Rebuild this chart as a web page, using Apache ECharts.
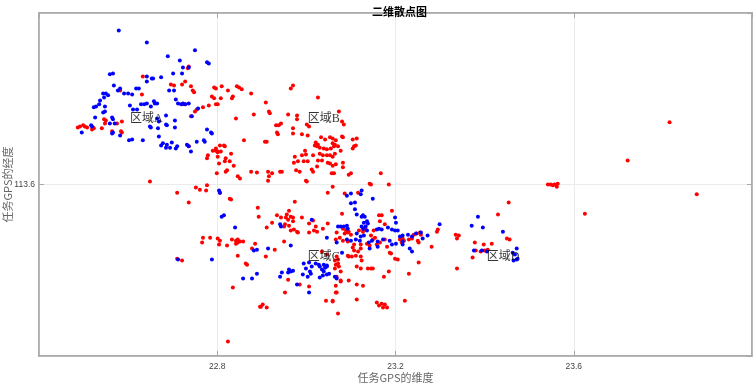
<!DOCTYPE html>
<html>
<head>
<meta charset="utf-8">
<script src="https://cdn.jsdelivr.net/npm/echarts@6/dist/echarts.min.js"></script>
<style>
  html, body { margin: 0; padding: 0; background: #fff; }
  #chart { width: 756px; height: 384px; }
</style>
</head>
<body>
<div id="chart"></div>
<script>
// 二维散点图：任务GPS的维度 / 经度
const xTicks = [22.4, 22.8, 23.2, 23.6, 24.0];
const yTicks = [113.2, 113.6, 114.0];

// 红色点（维度，经度）
const redLat = [
  22.633,22.736,22.734,22.728,22.721,22.696,22.703,22.741,22.745,22.748,22.793,22.797,22.631,22.582,22.788,22.793,
  22.728,22.723,22.797,22.801,22.781,22.768,22.754,22.750,22.741,22.546,22.550,22.575,22.586,22.548,22.492,22.499,
  22.503,22.508,22.521,22.523,22.519,22.541,22.564,22.584,22.586,22.736,22.797,22.801,22.487,22.810,22.824,22.844,
  22.849,22.855,22.876,22.835,22.833,22.808,22.970,22.965,23.026,22.909,22.916,22.918,22.882,22.842,22.959,22.979,
  22.979,23.073,23.080,23.084,23.001,23.006,22.943,22.938,22.932,22.970,22.934,22.936,22.970,22.990,23.003,23.033,
  23.042,23.053,23.059,23.066,23.080,23.082,23.104,23.113,22.860,22.907,22.911,22.806,22.815,22.817,22.797,22.801,
  22.808,22.790,23.021,23.026,23.024,23.030,23.019,23.039,23.046,23.055,23.062,23.059,23.064,23.071,23.077,23.111,
  23.107,23.104,22.997,22.990,22.999,22.974,23.015,23.030,23.037,23.046,23.053,23.059,23.064,23.026,23.035,22.972,
  22.981,22.994,23.003,23.048,23.053,23.059,23.066,23.082,23.082,22.779,22.777,22.801,22.804,22.819,22.817,22.828,
  22.837,22.831,22.822,22.819,22.799,22.846,22.851,22.876,22.889,22.914,22.923,22.916,22.914,22.941,22.945,22.977,
  22.985,23.012,23.015,23.024,23.057,23.062,23.100,23.095,22.999,23.001,23.059,22.777,22.752,22.761,22.775,22.806,
  22.828,23.048,23.116,23.142,23.167,23.185,22.710,22.736,22.831,22.891,22.893,22.974,22.961,22.956,22.954,22.943,
  22.934,22.965,22.970,22.959,22.923,22.911,22.952,22.950,22.961,22.970,22.965,22.972,22.979,22.981,22.990,23.015,
  23.006,23.006,23.021,23.017,23.024,23.037,23.048,23.080,23.068,23.082,23.091,23.093,22.768,22.766,22.784,22.801,
  22.806,22.804,22.833,22.822,22.842,22.846,22.851,22.858,22.842,22.846,22.885,22.878,22.909,22.846,22.864,22.867,
  22.929,22.950,22.710,22.721,23.035,23.046,23.068,23.064,23.071,23.073,23.077,23.095,22.959,22.985,23.006,23.077,
  23.068,22.952,23.066,23.044,23.059,23.071,22.835,22.898,22.902,22.911,22.896,22.824,23.145,23.086,23.192,23.163,
  23.169,23.165,23.176,23.151,23.089,23.095,23.086,23.100,23.118,23.127,23.133,23.145,23.154,23.149,23.075,23.082,
  23.066,23.093,23.107,23.122,23.136,23.142,23.158,23.165,23.176,23.181,23.210,23.216,23.219,23.214,23.230,23.237,
  23.241,23.248,23.255,23.257,23.250,23.252,23.281,23.293,23.295,23.335,23.342,23.338,23.187,23.190,23.199,23.205,
  23.104,23.107,23.116,23.122,23.093,23.102,23.111,23.122,23.124,23.071,23.066,23.064,23.113,23.122,23.138,23.145,
  23.149,23.185,23.174,23.230,23.252,23.338,23.077,23.095,23.113,23.127,23.066,23.068,23.059,23.113,23.158,23.163,
  23.169,23.176,23.181,23.172,23.221,23.454,23.430,23.450,23.456,23.378,23.416,23.380,23.400,23.407,23.373,23.398,
  23.391,23.542,23.548,23.553,23.557,23.562,23.564,23.721,23.815,23.625,23.876,22.649
];
const redLng = [
  113.852,113.875,113.871,113.840,113.833,113.833,113.831,113.829,113.819,113.815,113.826,113.824,113.810,113.819,113.805,113.801,
  113.787,113.787,113.787,113.787,113.784,113.780,113.775,113.770,113.759,113.752,113.749,113.742,113.747,113.742,113.735,113.738,
  113.735,113.733,113.733,113.731,113.728,113.731,113.724,113.724,113.721,113.689,113.679,113.675,113.733,113.829,113.819,113.829,
  113.826,113.822,113.812,113.805,113.801,113.801,113.831,113.824,113.803,113.791,113.770,113.766,113.763,113.754,113.763,113.761,
  113.752,113.770,113.747,113.740,113.740,113.735,113.742,113.738,113.738,113.731,113.721,113.717,113.719,113.717,113.714,113.710,
  113.705,113.710,113.707,113.703,113.712,113.710,113.705,113.707,113.703,113.700,113.700,113.691,113.691,113.689,113.684,113.677,
  113.677,113.679,113.698,113.693,113.689,113.686,113.691,113.684,113.682,113.684,113.689,113.696,113.693,113.689,113.679,113.691,
  113.689,113.684,113.679,113.668,113.670,113.665,113.668,113.672,113.668,113.668,113.668,113.665,113.672,113.656,113.656,113.651,
  113.654,113.654,113.654,113.651,113.649,113.644,113.647,113.651,113.640,113.668,113.661,113.665,113.649,113.661,113.654,113.654,
  113.644,113.672,113.633,113.630,113.626,113.619,113.614,113.630,113.628,113.630,113.626,113.619,113.609,113.630,113.630,113.633,
  113.630,113.635,113.630,113.642,113.626,113.626,113.626,113.623,113.609,113.607,113.595,113.598,113.593,113.588,113.586,113.581,
  113.567,113.581,113.581,113.602,113.626,113.600,113.581,113.558,113.565,113.546,113.525,113.560,113.539,113.530,113.523,113.523,
  113.528,113.525,113.523,113.518,113.511,113.500,113.507,113.502,113.504,113.514,113.493,113.495,113.490,113.488,113.523,113.516,
  113.509,113.488,113.502,113.493,113.490,113.497,113.509,113.532,113.488,113.497,113.495,113.488,113.476,113.465,113.476,113.474,
  113.469,113.460,113.472,113.458,113.462,113.465,113.467,113.467,113.469,113.472,113.462,113.451,113.432,113.434,113.416,113.413,
  113.448,113.467,113.427,113.423,113.444,113.437,113.432,113.423,113.416,113.409,113.397,113.432,113.378,113.367,113.362,113.374,
  113.385,113.348,113.348,113.329,113.329,113.299,113.360,113.315,113.320,113.313,113.315,113.234,113.600,113.579,113.539,113.528,
  113.528,113.514,113.507,113.493,113.493,113.490,113.486,113.483,113.493,113.490,113.495,113.481,113.476,113.472,113.476,113.469,
  113.472,113.467,113.460,113.460,113.462,113.458,113.460,113.465,113.472,113.455,113.472,113.474,113.469,113.465,113.472,113.474,
  113.483,113.486,113.488,113.483,113.469,113.465,113.455,113.490,113.495,113.483,113.481,113.474,113.441,113.439,113.427,113.425,
  113.453,113.446,113.444,113.451,113.434,113.432,113.434,113.432,113.423,113.425,113.413,113.404,113.409,113.404,113.404,113.404,
  113.404,113.397,113.385,113.392,113.418,113.404,113.376,113.376,113.367,113.364,113.364,113.348,113.327,113.332,113.325,113.318,
  113.322,113.320,113.313,113.313,113.329,113.558,113.530,113.474,113.472,113.465,113.462,113.446,113.446,113.448,113.430,113.460,
  113.444,113.600,113.600,113.598,113.600,113.595,113.602,113.656,113.745,113.532,113.577,113.607
];

// 蓝色点（维度，经度）
const blueLat = [
  22.579,22.642,22.750,22.689,22.716,22.777,22.781,22.723,22.736,22.559,22.566,22.642,22.653,22.656,22.674,22.642,
  22.721,22.701,22.568,22.582,22.577,22.618,22.624,22.544,22.550,22.546,22.555,22.591,22.600,22.609,22.692,22.703,
  22.707,22.712,22.719,22.537,22.535,22.528,22.523,22.548,22.604,22.629,22.636,22.642,22.658,22.660,22.665,22.651,
  22.611,22.620,22.544,22.548,22.526,22.564,22.566,22.685,22.665,22.669,22.705,22.570,22.559,22.685,22.687,22.517,
  22.519,22.649,22.651,22.705,22.496,22.566,22.564,22.667,22.777,22.786,22.788,22.582,22.669,22.602,22.609,22.633,
  22.754,22.770,22.772,22.678,22.687,22.698,22.674,22.685,22.694,22.710,22.707,22.732,22.736,22.723,22.728,22.736,
  22.757,22.743,22.741,22.804,22.806,23.091,23.100,22.810,22.815,22.840,22.882,22.889,22.914,22.965,22.941,22.943,
  23.012,23.046,23.068,23.071,23.077,23.084,23.080,22.712,22.788,22.889,22.878,22.858,22.941,22.945,22.959,22.961,
  22.965,22.970,22.994,23.006,23.021,23.028,23.030,23.039,23.046,22.999,23.008,23.012,22.992,23.003,23.010,23.035,
  23.039,23.042,23.046,23.030,23.037,23.046,23.051,23.064,23.068,22.979,23.006,23.100,23.109,23.122,23.124,23.149,
  23.109,23.113,23.124,23.127,23.131,23.136,23.138,23.129,23.091,23.093,23.124,23.127,23.133,23.158,23.163,23.169,
  23.183,23.192,23.199,23.205,23.199,23.201,23.136,23.113,23.122,23.129,23.091,23.100,23.111,23.120,23.140,23.147,
  23.160,23.172,23.187,23.192,23.210,23.216,23.228,23.237,23.246,23.257,23.272,23.261,23.232,23.237,23.216,23.216,
  23.201,23.299,23.160,23.142,23.385,23.396,23.371,23.441,23.376,23.394,23.405,23.463,23.468,23.472,23.472,23.465,
  23.474
];
const blueLng = [
  113.959,113.931,113.913,113.899,113.889,113.885,113.882,113.873,113.873,113.857,113.859,113.852,113.847,113.847,113.850,113.840,
  113.859,113.859,113.831,113.824,113.819,113.824,113.824,113.812,113.812,113.803,113.808,113.812,113.812,113.810,113.819,113.819,
  113.798,113.789,113.787,113.796,113.787,113.782,113.780,113.782,113.784,113.787,113.787,113.789,113.794,113.789,113.789,113.782,
  113.775,113.775,113.768,113.770,113.756,113.756,113.752,113.761,113.754,113.747,113.749,113.742,113.742,113.740,113.738,113.738,
  113.735,113.735,113.733,113.733,113.721,113.721,113.719,113.731,113.728,113.721,113.719,113.714,113.712,113.703,113.705,113.703,
  113.700,113.703,113.700,113.696,113.693,113.698,113.691,113.686,113.686,113.689,113.684,113.693,113.689,113.789,113.787,113.789,
  113.777,113.759,113.677,113.586,113.581,113.574,113.579,113.525,113.528,113.500,113.446,113.448,113.451,113.458,113.507,113.502,
  113.518,113.476,113.465,113.502,113.502,113.502,113.441,113.425,113.425,113.392,113.381,113.381,113.385,113.395,113.395,113.402,
  113.397,113.399,113.416,113.418,113.416,113.413,113.409,113.413,113.411,113.404,113.397,113.409,113.390,113.385,113.392,113.402,
  113.397,113.406,113.409,113.383,113.388,113.390,113.392,113.385,113.381,113.367,113.348,113.556,113.558,113.577,113.586,113.567,
  113.542,113.530,113.525,113.528,113.525,113.514,113.509,113.511,113.504,113.497,113.502,113.497,113.502,113.495,113.497,113.495,
  113.500,113.495,113.493,113.493,113.523,113.511,113.493,113.486,113.479,113.481,113.472,113.469,113.472,113.469,113.465,113.469,
  113.467,113.472,113.469,113.460,113.479,113.481,113.483,113.479,113.486,113.488,113.481,113.474,113.451,113.444,113.467,113.460,
  113.462,113.507,113.455,113.451,113.525,113.500,113.504,113.490,113.446,113.446,113.444,113.441,113.437,113.451,113.425,113.423,
  113.427
];

// 区域标注
const regionNames = ['区域A', '区域B', '区域C', '区域D'];
const regionLat = [22.604, 23.003, 23.003, 23.405];
const regionLng = [113.753, 113.753, 113.432, 113.432];

const zip = (xs, ys) => xs.map((x, i) => [x, ys[i]]);

let myChart = echarts.init(document.getElementById('chart'));
const gridLine = { show: true, lineStyle: { color: '#ebebeb', width: 1 } };
const boxLine = { show: true, onZero: false, lineStyle: { color: '#a8a8a8', width: 1.5 } };
const tickIn = { show: true, inside: true, length: 5, lineStyle: { color: '#a8a8a8' } };
let option = {
  animation: false,
  title: {
    text: '二维散点图',
    left: 367,
    top: 1,
    textStyle: { fontSize: 11, fontWeight: 'bold', color: '#000', fontFamily: 'Noto Sans CJK SC' }
  },
  grid: {
    left: 39, top: 13, right: 4, bottom: 28,
    containLabel: false,
    outerBoundsMode: 'none',
    show: true, borderColor: '#a8a8a8', borderWidth: 1.5
  },
  xAxis: [
    {
      type: 'value',
      min: xTicks[0], max: xTicks[xTicks.length - 1], interval: 0.4,
      name: '任务GPS的维度',
      nameLocation: 'middle',
      nameGap: 16,
      nameMoveOverlap: false,
      nameTextStyle: { fontSize: 11, color: '#666', fontFamily: 'Noto Sans CJK SC', verticalAlign: 'top' },
      axisLine: boxLine,
      axisTick: tickIn,
      axisLabel: { showMinLabel: false, showMaxLabel: false, margin: 6, fontSize: 8.5, color: '#444', fontFamily: 'Liberation Sans' },
      splitLine: gridLine
    },
    {
      type: 'value', position: 'top',
      min: xTicks[0], max: xTicks[xTicks.length - 1], interval: 0.4,
      axisLine: boxLine,
      axisTick: tickIn,
      axisLabel: { show: false },
      splitLine: { show: false }
    }
  ],
  yAxis: [
    {
      type: 'value',
      min: yTicks[0], max: yTicks[yTicks.length - 1], interval: 0.4,
      name: '任务GPS的经度',
      nameLocation: 'middle',
      nameGap: 26,
      nameMoveOverlap: false,
      nameTextStyle: { fontSize: 11, color: '#666', fontFamily: 'Noto Sans CJK SC' },
      axisLine: boxLine,
      axisTick: tickIn,
      axisLabel: { showMinLabel: false, showMaxLabel: false, margin: 4, fontSize: 8.5, color: '#444', fontFamily: 'Liberation Sans' },
      splitLine: gridLine
    },
    {
      type: 'value', position: 'right',
      min: yTicks[0], max: yTicks[yTicks.length - 1], interval: 0.4,
      axisLine: boxLine,
      axisTick: tickIn,
      axisLabel: { show: false },
      splitLine: { show: false }
    }
  ],
  series: [
    {
      name: 'red',
      type: 'scatter',
      symbolSize: 4,
      itemStyle: { color: '#ff0000', opacity: 1 },
      data: zip(redLat, redLng)
    },
    {
      name: 'blue',
      type: 'scatter',
      symbolSize: 4,
      itemStyle: { color: '#0000ff', opacity: 1 },
      data: zip(blueLat, blueLng)
    },
    {
      name: 'regions',
      type: 'scatter',
      symbolSize: 0,
      z: 5,
      label: {
        show: true,
        position: 'right',
        distance: 0,
        formatter: p => p.name,
        fontSize: 12,
        color: '#000',
        fontFamily: "'Liberation Serif', 'Noto Sans CJK SC'"
      },
      data: regionNames.map((n, i) => ({ name: n, value: [regionLat[i], regionLng[i]] }))
    }
  ]
};
myChart.setOption(option);
</script>
</body>
</html>
